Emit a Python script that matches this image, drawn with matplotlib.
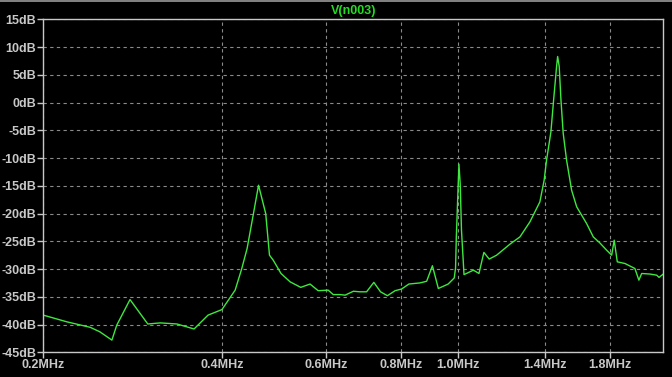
import numpy as np
import matplotlib.pyplot as plt
from matplotlib.ticker import FixedLocator, NullLocator
from matplotlib.lines import Line2D

# frequency (MHz) and magnitude (dB) of V(n003)
freq_mhz = [0.200, 0.219, 0.240, 0.249, 0.261, 0.266, 0.280, 0.300, 0.315, 0.336,
            0.359, 0.379, 0.400, 0.421, 0.432, 0.441, 0.452, 0.461, 0.474, 0.481,
            0.488, 0.503, 0.521, 0.543, 0.563, 0.581, 0.604, 0.616, 0.632, 0.645,
            0.666, 0.683, 0.701, 0.721, 0.740, 0.760, 0.783, 0.803, 0.826, 0.862,
            0.885, 0.905, 0.926, 0.962, 0.985, 0.990, 0.993, 1.003, 1.008, 1.013,
            1.023, 1.061, 1.084, 1.105, 1.128, 1.161, 1.223, 1.271, 1.321, 1.373,
            1.396, 1.409, 1.433, 1.450, 1.465, 1.471, 1.480, 1.490, 1.503, 1.523,
            1.553, 1.584, 1.646, 1.689, 1.733, 1.779, 1.814, 1.832, 1.854, 1.910,
            1.985, 2.016, 2.038, 2.104, 2.160, 2.180, 2.216]
mag_db = [-38.3, -39.5, -40.5, -41.3, -42.8, -40.1, -35.5, -39.9, -39.7, -39.9,
          -40.8, -38.3, -37.3, -33.8, -29.9, -26.3, -20.0, -14.9, -20.0, -27.5,
          -28.4, -30.8, -32.3, -33.3, -32.7, -33.9, -33.8, -34.6, -34.6, -34.7,
          -34.0, -34.1, -34.1, -32.4, -34.1, -34.8, -33.9, -33.6, -32.7, -32.5,
          -32.2, -29.4, -33.5, -32.7, -31.6, -29.8, -24.2, -11.1, -14.6, -23.0,
          -31.0, -30.2, -30.8, -27.0, -28.2, -27.5, -25.5, -24.2, -21.5, -17.9,
          -14.0, -10.4, -5.3, 1.1, 6.5, 8.3, 6.5, 0.5, -5.5, -10.4,
          -15.8, -18.8, -21.8, -24.2, -25.3, -26.6, -27.5, -24.8, -28.7, -29.0,
          -29.9, -32.0, -30.8, -30.9, -31.1, -31.5, -30.9]

x_ticks = [0.2, 0.4, 0.6, 0.8, 1.0, 1.4, 1.8]
x_labels = ['0.2MHz', '0.4MHz', '0.6MHz', '0.8MHz', '1.0MHz', '1.4MHz', '1.8MHz']
y_ticks = [15, 10, 5, 0, -5, -10, -15, -20, -25, -30, -35, -40, -45]
y_labels = ['%ddB' % v for v in y_ticks]

plt.rcParams['font.family'] = ['Liberation Sans', 'DejaVu Sans']

fig = plt.figure(figsize=(6.72, 3.77), dpi=100, facecolor='black')
ax = fig.add_axes([0.0644, 0.0655, 0.9226, 0.8833], facecolor='black')

ax.plot(freq_mhz, mag_db, color='#3ee83e', lw=1.0)

ax.set_xscale('log')
ax.set_xlim(0.2, 2.216)
ax.set_ylim(-45, 15)
ax.xaxis.set_major_locator(FixedLocator(x_ticks))
ax.xaxis.set_minor_locator(NullLocator())
ax.set_xticklabels(x_labels)
ax.set_yticks(y_ticks)
ax.set_yticklabels(y_labels)

for s in ax.spines.values():
    s.set_color('#c8c8c8')
    s.set_linewidth(1.0)

ax.tick_params(colors='#c8c8c8', labelcolor='#c8c8c8', labelsize=9,
               length=4, width=1, direction='out', pad=1)
for lbl in ax.get_xticklabels() + ax.get_yticklabels():
    lbl.set_fontweight('bold')

ax.grid(True, color='#8a8a8a', linestyle=(0, (3, 3)), linewidth=0.8)

fig.text(0.5256, 0.972, 'V(n003)', color='#22dd22', fontsize=9,
         fontweight='bold', ha='center', va='center')

# window border at the top edge
fig.add_artist(Line2D([0, 1], [0.997, 0.997], transform=fig.transFigure,
                      color='#9a9a9a', lw=1.2))

fig.savefig('out.png', dpi=100, facecolor='black')
